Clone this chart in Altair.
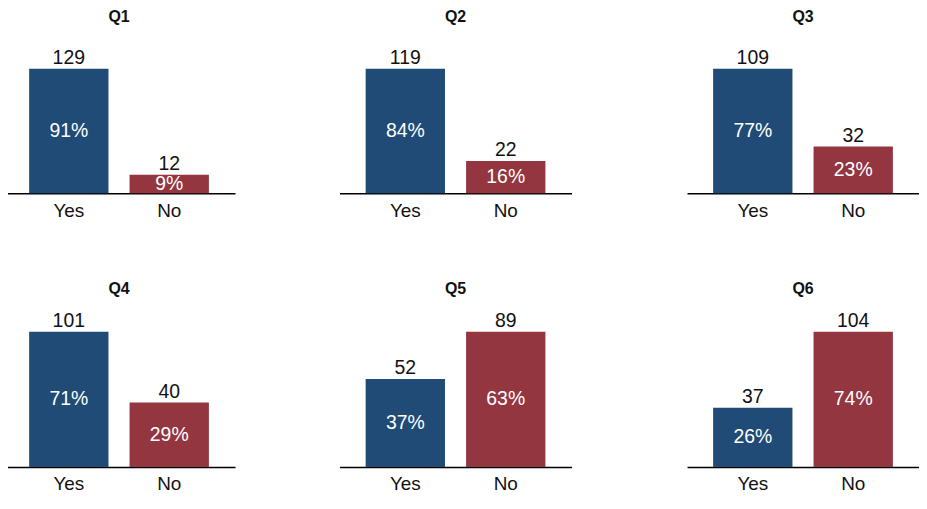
import altair as alt
import pandas as pd

questions = ["Q1", "Q2", "Q3", "Q4", "Q5", "Q6"]
answers = ["Yes", "No"]
yes_counts = [129, 119, 109, 101, 52, 37]
no_counts = [12, 22, 32, 40, 89, 104]
yes_pct = [91, 84, 77, 71, 37, 26]
no_pct = [9, 16, 23, 29, 63, 74]

BLUE = "#1f4b76"
RED = "#93363f"
FONT = "Liberation Sans"
TXT = "#111111"
EXP = 0.8

rows = []
for i, q in enumerate(questions):
    rows.append({"question": q, "answer": "Yes", "count": yes_counts[i], "pct": f"{yes_pct[i]}%"})
    rows.append({"question": q, "answer": "No", "count": no_counts[i], "pct": f"{no_pct[i]}%"})
df = pd.DataFrame(rows)


def panel(q, width, height, title_offset, xrange=None, title_dx=0):
    sc = dict(domain=answers, paddingInner=0.21, paddingOuter=0.26)
    if xrange is not None:
        sc["range"] = xrange
    x = alt.X(
        "answer:N",
        sort=answers,
        scale=alt.Scale(**sc),
        axis=alt.Axis(
            title=None, labelAngle=0, ticks=False, domainColor="#000000",
            domainWidth=1.5, labelFontSize=19, labelColor=TXT,
            labelFont=FONT, labelPadding=8,
        ),
    )
    yscale = alt.Scale(type="pow", exponent=EXP, zero=True, nice=False)
    base = alt.Chart(df).transform_filter(alt.datum.question == q)
    bars = base.mark_bar().encode(
        x=x,
        y=alt.Y("count:Q", scale=yscale, axis=None),
        color=alt.Color("answer:N", scale=alt.Scale(domain=answers, range=[BLUE, RED]), legend=None),
    )
    counts = base.mark_text(baseline="bottom", dy=-1, fontSize=19.5, font=FONT, color=TXT).encode(
        x=x, y=alt.Y("count:Q"), text="count:Q"
    )
    pcts = base.transform_calculate(mid=f"datum.count * pow(0.5, {1 / EXP})").mark_text(
        baseline="middle", fontSize=19.5, font=FONT, color="#ffffff"
    ).encode(x=x, y=alt.Y("mid:Q"), text="pct:N")
    return alt.layer(bars, counts, pcts).properties(
        width=width, height=height,
        title=alt.TitleParams(text=q, fontSize=16, fontWeight="bold", font=FONT,
                              anchor="middle", dx=title_dx, color=TXT, offset=title_offset),
    )


row1 = alt.hconcat(
    panel("Q1", 233, 125, 23),
    panel("Q2", 233, 125, 23),
    panel("Q3", 244, 125, 23, [11, 244], 5.5),
    spacing=105,
)
row2 = alt.hconcat(
    panel("Q4", 233, 136, 14),
    panel("Q5", 233, 136, 14),
    panel("Q6", 244, 136, 14, [11, 244], 5.5),
    spacing=105,
)
chart = alt.vconcat(row1, row2, spacing=61).properties(
    padding={"left": -5, "top": 0, "right": 0, "bottom": 0}
).configure_view(strokeWidth=0)

chart.save("out.html", embed_options={"renderer": "svg", "actions": False})
